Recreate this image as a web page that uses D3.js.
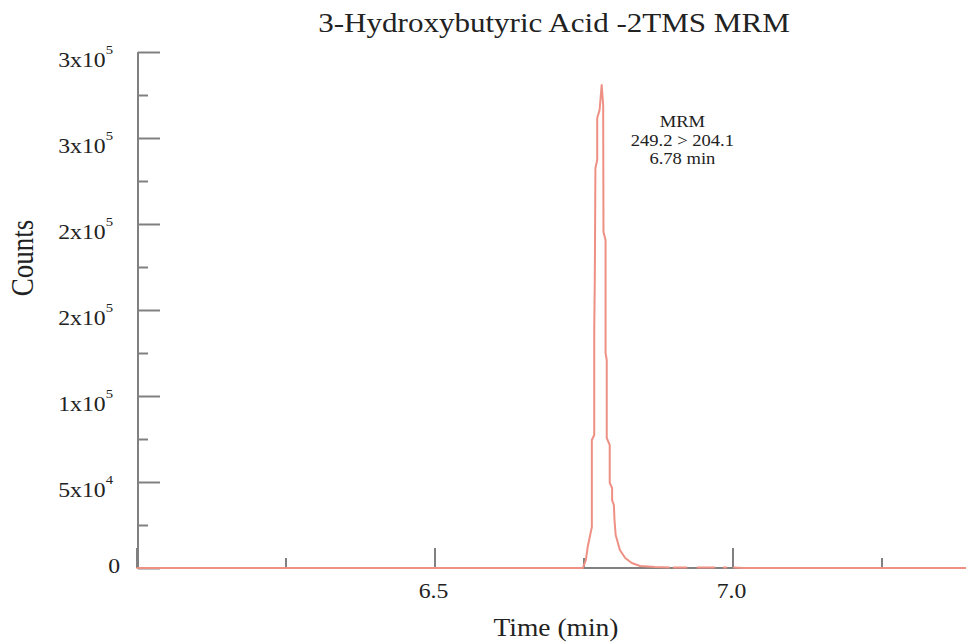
<!DOCTYPE html>
<html>
<head>
<meta charset="utf-8">
<script src="https://cdn.jsdelivr.net/npm/d3@7"></script>
<style>
  body { margin: 0; background: #fff; }
  text { font-family: "Liberation Serif", "Times New Roman", serif; fill: #222; }
</style>
</head>
<body>
<div id="chart"></div>
<script>
// Chromatogram trace (time in min, counts); null = gap in the trace
const timeMin = [6.00, 6.749, 6.754, 6.757, 6.764, 6.764, 6.768, 6.768, 6.769, 6.770, 6.773, 6.773, 6.777, 6.7805,
  6.783, 6.7835, 6.787, 6.787, 6.789, 6.789, 6.794, 6.794, 6.798, 6.798, 6.801, 6.802, 6.804, 6.811, 6.820, 6.831,
  6.845, 6.870, 6.895, 6.897, 6.900, 6.924, 6.930, 6.940, 6.971, 6.977, 6.984, 6.991, 6.996, 7.001, 7.018, 7.40];
const counts = [0, 0, 4650, 12200, 23800, 74400, 77300, 138400, 169200, 232600, 237200, 261600, 266300, 280800,
  269200, 195300, 190700, 125000, 120900, 75600, 71500, 49400, 46500, 39500, 36600, 27900, 19200, 10500, 5800, 2900,
  1200, 600, 300, null, 300, 300, null, 300, 300, null, 300, 300, null, 300, 0, 0];

// integration baseline segment (min)
const baselineStart = 6.749;
const baselineEnd = 7.02;

// axes
const yTickValues = [0, 50000, 100000, 150000, 200000, 250000, 300000];
const yTickMantissa = ["0", "5x10", "1x10", "2x10", "2x10", "3x10", "3x10"];
const yTickExponent = ["", "4", "5", "5", "5", "5", "5"];
const yMinorTicks = [25000, 75000, 125000, 175000, 225000, 275000];
const xMajorTicks = [6.0, 6.5, 7.0];
const xMinorTicks = [6.25, 6.75, 7.25];
const xTickLabels = [{ v: 6.5, t: "6.5" }, { v: 7.0, t: "7.0" }];

const peakTime = 6.78;
const annotationLines = ["MRM", "249.2 > 204.1", "6.78 min"];

const titleText = "3-Hydroxybutyric Acid -2TMS MRM";
const xLabel = "Time (min)";
const yLabel = "Counts";

const width = 966, height = 642;
const axisColor = "#808080";
const traceColor = "#ee9084";

const svg = d3.select("#chart").append("svg")
    .attr("width", width)
    .attr("height", height);

const x = d3.scaleLinear().domain([6.0, 7.4]).range([136.5, 136.5 + 1.4 * 596]);
const y = d3.scaleLinear().domain([0, 300000]).range([568, 52]);

// helper: horizontally stretched text (the source image is a bit wide)
function stretchedText(parent, px, py, str, size, sx, anchor) {
    return parent.append("g")
        .attr("transform", `translate(${px},${py}) scale(${sx},1)`)
        .append("text")
        .attr("text-anchor", anchor || "middle")
        .style("font-size", size + "px")
        .text(str);
}

// Y axis: major and minor ticks
const yAxisG = svg.append("g").attr("transform", `translate(${x(6.0) + 1.5},0)`);
yAxisG.call(d3.axisRight(y).tickValues(yTickValues).tickSize(22).tickFormat(""));
yAxisG.append("g").call(d3.axisRight(y).tickValues(yMinorTicks).tickSize(10).tickFormat(""));
yAxisG.selectAll("path.domain").attr("d", `M0,${y(300000)}V${y(0)}`);
yAxisG.selectAll("path, line").attr("stroke", axisColor).attr("stroke-width", 2);
yAxisG.selectAll("g g .domain").remove();

// X axis ticks (pointing up)
const xAxisG = svg.append("g").attr("transform", `translate(0,${y(0)})`);
xAxisG.call(d3.axisTop(x).tickValues(xMajorTicks).tickSize(20).tickFormat(""));
xAxisG.append("g").call(d3.axisTop(x).tickValues(xMinorTicks).tickSize(10).tickFormat(""));
xAxisG.selectAll("path.domain").remove();
xAxisG.selectAll("line").attr("stroke", axisColor).attr("stroke-width", 2);

// Y tick labels with superscript exponents
yTickValues.forEach((v, i) => {
    const ty = y(v);
    if (yTickExponent[i] === "") {
        stretchedText(svg, 120, ty + 5, yTickMantissa[i], 21, 1.13, "end");
    } else {
        const t = stretchedText(svg, 113, ty + 15, yTickMantissa[i], 21, 1.13, "end");
        t.append("tspan")
            .attr("dy", -13)
            .style("font-size", "13px")
            .text(yTickExponent[i]);
    }
});

// X tick labels
xTickLabels.forEach(d => {
    stretchedText(svg, x(d.v) - 1, 598, d.t, 21, 1.13, "middle");
});

// integration baseline (gray)
svg.append("line")
    .attr("x1", x(baselineStart)).attr("x2", x(baselineEnd))
    .attr("y1", y(0)).attr("y2", y(0))
    .attr("stroke", axisColor)
    .attr("stroke-width", 2);

// trace
const traceData = timeMin.map((t, i) => ({ t: t, c: counts[i] }));
const line = d3.line()
    .defined(d => d.c !== null)
    .x(d => x(d.t))
    .y(d => y(d.c));

svg.append("path")
    .datum(traceData)
    .attr("fill", "none")
    .attr("stroke", traceColor)
    .attr("stroke-width", 2)
    .attr("stroke-linejoin", "round")
    .attr("d", line);

// peak annotation
annotationLines.forEach((s, i) => {
    stretchedText(svg, x(peakTime) + 81, 127 + i * 18.5, s, 16, 1.16, "middle");
});

// title
stretchedText(svg, 554, 32, titleText, 27, 1.15, "middle");

// x axis label
stretchedText(svg, 556, 636, xLabel, 25, 1.1, "middle");

// y axis label (rotated)
svg.append("g")
    .attr("transform", "translate(33,258) scale(1.15,1) rotate(-90)")
    .append("text")
    .attr("text-anchor", "middle")
    .style("font-size", "27px")
    .text(yLabel);
</script>
</body>
</html>
